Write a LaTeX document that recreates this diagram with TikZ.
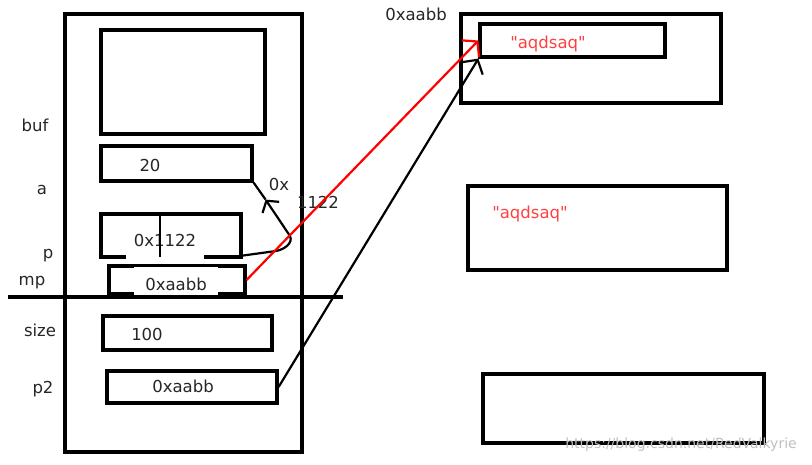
\documentclass[tikz,border=0pt]{standalone}
\usepackage{fontspec}
\setmainfont{DejaVu Sans}[Ligatures=TeXOff]
\usetikzlibrary{arrows.meta,calc}

\begin{document}
\begin{tikzpicture}[
            x = 1pt, y = -1pt,
            every node/.style = {font = \fontsize{16.5}{20}\selectfont, text = black!85},
            cell/.style = {draw, line width = 3.2pt, inner sep = 0pt},
            val/.style = {inner sep = 1pt},
            varname/.style = {inner sep = 0pt},
            str/.style = {text = red!75!white},
            link/.style = {line width = 2.2pt, -{Straight Barb[length = 10pt, width = 24pt]}}
            ]
            \useasboundingbox (0,0) rectangle (812,465);
            % stack frame
            \node[cell, minimum width = 237pt, minimum height = 438pt] (stack) at (183.5,233) {};
            \node[cell, minimum width = 164pt, minimum height = 104pt] (buf) at (183,82) {};
            \node[cell, minimum width = 151pt, minimum height = 35pt] (a) at (176.5,163.5) {};
            \node[cell, minimum width = 140pt, minimum height = 43pt] (p) at (171,235.5) {};
            \node[cell, minimum width = 136pt, minimum height = 28pt] (mp) at (177,280) {};
            \node[cell, minimum width = 169pt, minimum height = 34pt] (size) at (187.5,333) {};
            \node[cell, minimum width = 170pt, minimum height = 32pt] (p2) at (192,387) {};
            \node[val] (aval) at (150,165) {20};
            \node[val, fill = white, minimum width = 78pt, minimum height = 40pt] (pval) at (165,240) {0x1122};
            \draw[line width = 1.8pt] (160,214) -- (160,257);
            \node[val, fill = white, minimum width = 84pt, minimum height = 34pt] (mpval) at (176,284) {0xaabb};
            \draw[line width = 3.2pt] (8,297) coordinate (cutl) -- (343,297) coordinate (cutr);
            \node[val] (sizeval) at (147,334) {100};
            \node[val] (p2val) at (183,386) {0xaabb};
            % variable names
            \node[varname] (nbuf) at (35,125) {buf};
            \node[varname] (na) at (42,190) {a};
            \node[varname] (np) at (48,256) {p};
            \node[varname] (nmp) at (32,283) {mp};
            \node[varname] (nsize) at (40,330) {size};
            \node[varname] (np2) at (43,389) {p2};
            % heap
            \node[cell, minimum width = 260pt, minimum height = 89pt] (heap1) at (591,58.5) {};
            \node[cell, minimum width = 185pt, minimum height = 33pt] (inner) at (572.5,40.5) {};
            \node[val, str] (s1) at (548,44) {"aqdsaq"};
            \node[varname] (addr) at (416,14) {0xaabb};
            \node[cell, minimum width = 259pt, minimum height = 84pt] (heap2) at (597.5,228) {};
            \node[val, str] (s2) at (530,214) {"aqdsaq"};
            \node[cell, minimum width = 281pt, minimum height = 69pt] (heap3) at (623.5,408.5) {};
            \node[varname, text = black!25, font = \fontsize{14}{16}\selectfont] (mark) at (681,445) {https://blog.csdn.net/RedValkyrie};
            % pointers
            \draw[line width = 2.2pt, -{Straight Barb[length = 8pt, width = 20pt]}]
                 ($(p.south east)+(0,-3)$) -- (276,251) to[out = 10, in = -65] (290,236) -- ($(a.south east)+(12,17)$);
            \draw[line width = 2.2pt] ($(a.south east)+(12,17)$) -- (a.south east);
            \node[varname] (lab1) at (279,184) {0x};
            \node[varname] (lab2) at (318,202) {1122};
            \draw[link, red] (mp.east) -- (inner.west);
            \draw[link] (p2.east) -- (inner.south west);
\end{tikzpicture}
\end{document}
